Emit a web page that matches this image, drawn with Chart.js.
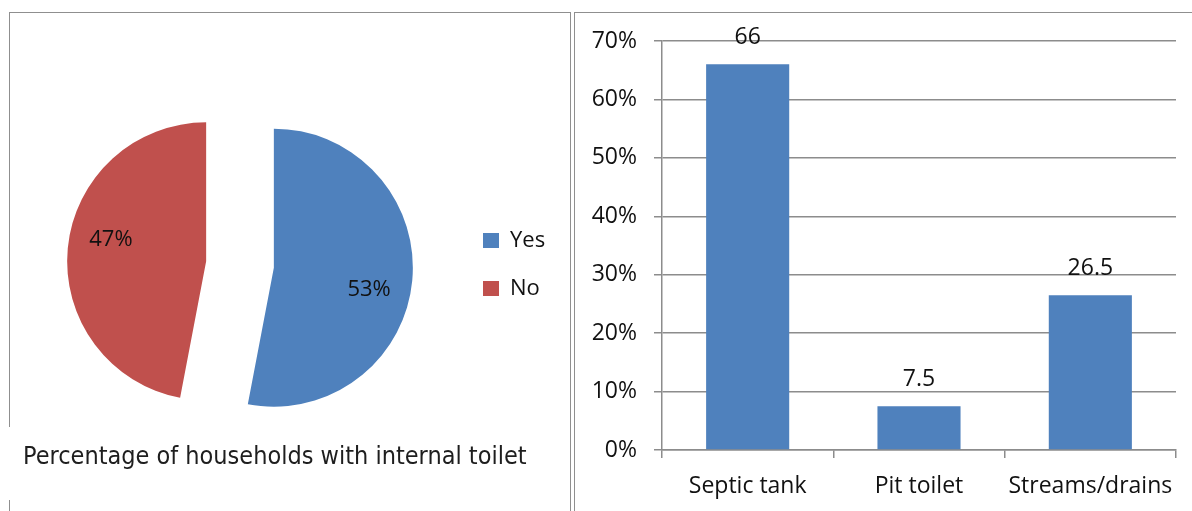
<!DOCTYPE html>
<html>
<head>
<meta charset="utf-8">
<title>Households and toilet disposal</title>
<script src="https://cdn.jsdelivr.net/npm/chart.js@4/dist/chart.umd.min.js"></script>
<style>
  html, body { margin: 0; padding: 0; background: #fff; }
  body { width: 1192px; height: 511px; position: relative; overflow: hidden; }
  .rule { position: absolute; background: #8f8f8f; }
  #pieBox { position: absolute; left: 0; top: 0; width: 572px; height: 511px; }
  #barBox { position: absolute; left: 575px; top: 0; width: 617px; height: 511px; }
</style>
</head>
<body>
<!-- panel frames -->
<div class="rule" style="left:9px;top:12px;width:562px;height:1px"></div>
<div class="rule" style="left:9px;top:12px;width:1px;height:415px"></div>
<div class="rule" style="left:9px;top:500px;width:1px;height:11px"></div>
<div class="rule" style="left:570px;top:12px;width:1px;height:499px"></div>
<div class="rule" style="left:574px;top:12px;width:618px;height:1px"></div>
<div class="rule" style="left:574px;top:12px;width:1px;height:499px"></div>

<div id="pieBox"><canvas id="pie"></canvas></div>
<div id="barBox"><canvas id="bar"></canvas></div>

<script>
// Households with an internal toilet
const pieLabels = ['Yes', 'No'];
const pieShares = [53, 47];
const pieTitle = 'Percentage of households with internal toilet';

// Where toilet waste goes
const disposalCategories = ['Septic tank', 'Pit toilet', 'Streams/drains'];
const disposalValues = [66, 7.5, 26.5];
const axisMax = 70;
const axisStep = 10;

const BLUE = '#4F81BD';
const RED = '#C0504D';
const GRID = '#8c8c8c';
const INK = '#111111';

Chart.defaults.font.family = '"Open Sans", "DejaVu Sans", sans-serif';
Chart.defaults.color = INK;

// Pulls every slice outwards along its bisector and writes the percentage on it
const explodedPie = {
  id: 'explodedPie',
  beforeDatasetDraw(chart, args, opts) {
    const ctx = chart.ctx;
    args.meta.data.forEach(arc => {
      const mid = (arc.startAngle + arc.endAngle) / 2;
      ctx.save();
      ctx.translate(Math.cos(mid) * opts.distance, Math.sin(mid) * opts.distance);
      arc.draw(ctx);
      ctx.restore();
    });
    return false;
  },
  afterDatasetsDraw(chart, args, opts) {
    const ctx = chart.ctx;
    const meta = chart.getDatasetMeta(0);
    const values = chart.data.datasets[0].data;
    ctx.save();
    ctx.font = opts.font;
    ctx.fillStyle = opts.color;
    ctx.textAlign = 'center';
    ctx.textBaseline = 'middle';
    meta.data.forEach((arc, i) => {
      const mid = (arc.startAngle + arc.endAngle) / 2;
      const cx = arc.x + Math.cos(mid) * opts.distance;
      const cy = arc.y + Math.sin(mid) * opts.distance;
      const a = mid + opts.labelTurn;
      const r = arc.outerRadius * opts.labelRadius;
      ctx.fillText(values[i] + '%', cx + Math.cos(a) * r, cy + Math.sin(a) * r);
    });
    ctx.restore();
  }
};

// Value written above each bar
const barValues = {
  id: 'barValues',
  afterDatasetsDraw(chart, args, opts) {
    const ctx = chart.ctx;
    const meta = chart.getDatasetMeta(0);
    const values = chart.data.datasets[0].data;
    ctx.save();
    ctx.font = opts.font;
    ctx.fillStyle = opts.color;
    ctx.textAlign = 'center';
    ctx.textBaseline = 'middle';
    meta.data.forEach((bar, i) => {
      ctx.fillText(String(values[i]), bar.x, bar.y - opts.gap);
    });
    ctx.restore();
  }
};

// Legend geometry: the right padding leaves the plot area ending at x = 457
const legendFontSize = 22;
const legendBox = 16;
const legendPad = 26;
const measure = document.createElement('canvas').getContext('2d');
measure.font = legendFontSize + 'px "Open Sans", "DejaVu Sans", sans-serif';
const widestLabel = Math.max(...pieLabels.map(t => measure.measureText(t).width));
const legendWidth = legendPad + legendBox + legendFontSize / 2 + widestLabel + 10;
const pieRightPad = 572 - 457 - legendWidth;

new Chart(document.getElementById('pie'), {
  type: 'pie',
  data: {
    labels: pieLabels,
    datasets: [{
      data: pieShares,
      backgroundColor: [BLUE, RED],
      borderWidth: 0,
      hoverOffset: 0
    }]
  },
  options: {
    responsive: true,
    maintainAspectRatio: false,
    animation: false,
    events: [],
    radius: 139,
    layout: { padding: { left: 23, top: 108.5, bottom: 28.5, right: pieRightPad } },
    plugins: {
      tooltip: { enabled: false },
      legend: {
        position: 'right',
        align: 'center',
        fullSize: false,
        labels: {
          boxWidth: legendBox,
          boxHeight: 15,
          padding: legendPad,
          color: INK,
          font: { size: legendFontSize }
        }
      },
      title: {
        display: true,
        text: pieTitle,
        position: 'bottom',
        align: 'start',
        color: '#1e1e1e',
        font: { family: '"DejaVu Sans Condensed", "Liberation Sans Narrow", "Open Sans", sans-serif', size: 25, weight: 'normal' },
        padding: { top: 22, bottom: 10 }
      },
      explodedPie: {
        distance: 34,
        labelRadius: 0.703,
        labelTurn: 7.5 * Math.PI / 180,
        font: '22px "Open Sans", "DejaVu Sans", sans-serif',
        color: INK
      }
    }
  },
  plugins: [explodedPie]
});

new Chart(document.getElementById('bar'), {
  type: 'bar',
  data: {
    labels: disposalCategories,
    datasets: [{
      data: disposalValues,
      backgroundColor: BLUE,
      borderWidth: 0,
      barPercentage: 0.485,
      categoryPercentage: 1
    }]
  },
  options: {
    responsive: true,
    maintainAspectRatio: false,
    animation: false,
    events: [],
    layout: { padding: { top: 41, right: 16, left: 0, bottom: 0 } },
    plugins: {
      legend: { display: false },
      tooltip: { enabled: false },
      barValues: { gap: 26.5, font: '23px "Open Sans", "DejaVu Sans", sans-serif', color: INK }
    },
    scales: {
      x: {
        grid: { offset: true, drawOnChartArea: false, tickLength: 8, color: GRID, lineWidth: 1.5 },
        border: { color: GRID, width: 1.5 },
        ticks: { padding: 15, color: INK, font: { size: 23 } },
        afterFit(scale) { scale.height = 61; }
      },
      y: {
        min: 0,
        max: axisMax,
        grid: { tickLength: 8, color: GRID, lineWidth: 1.5 },
        border: { color: GRID, width: 1.5 },
        ticks: { stepSize: axisStep, padding: 17, color: INK, font: { size: 23 }, callback: v => v + '%' },
        afterFit(scale) { scale.width = 87; }
      }
    }
  },
  plugins: [barValues]
});
</script>
</body>
</html>
